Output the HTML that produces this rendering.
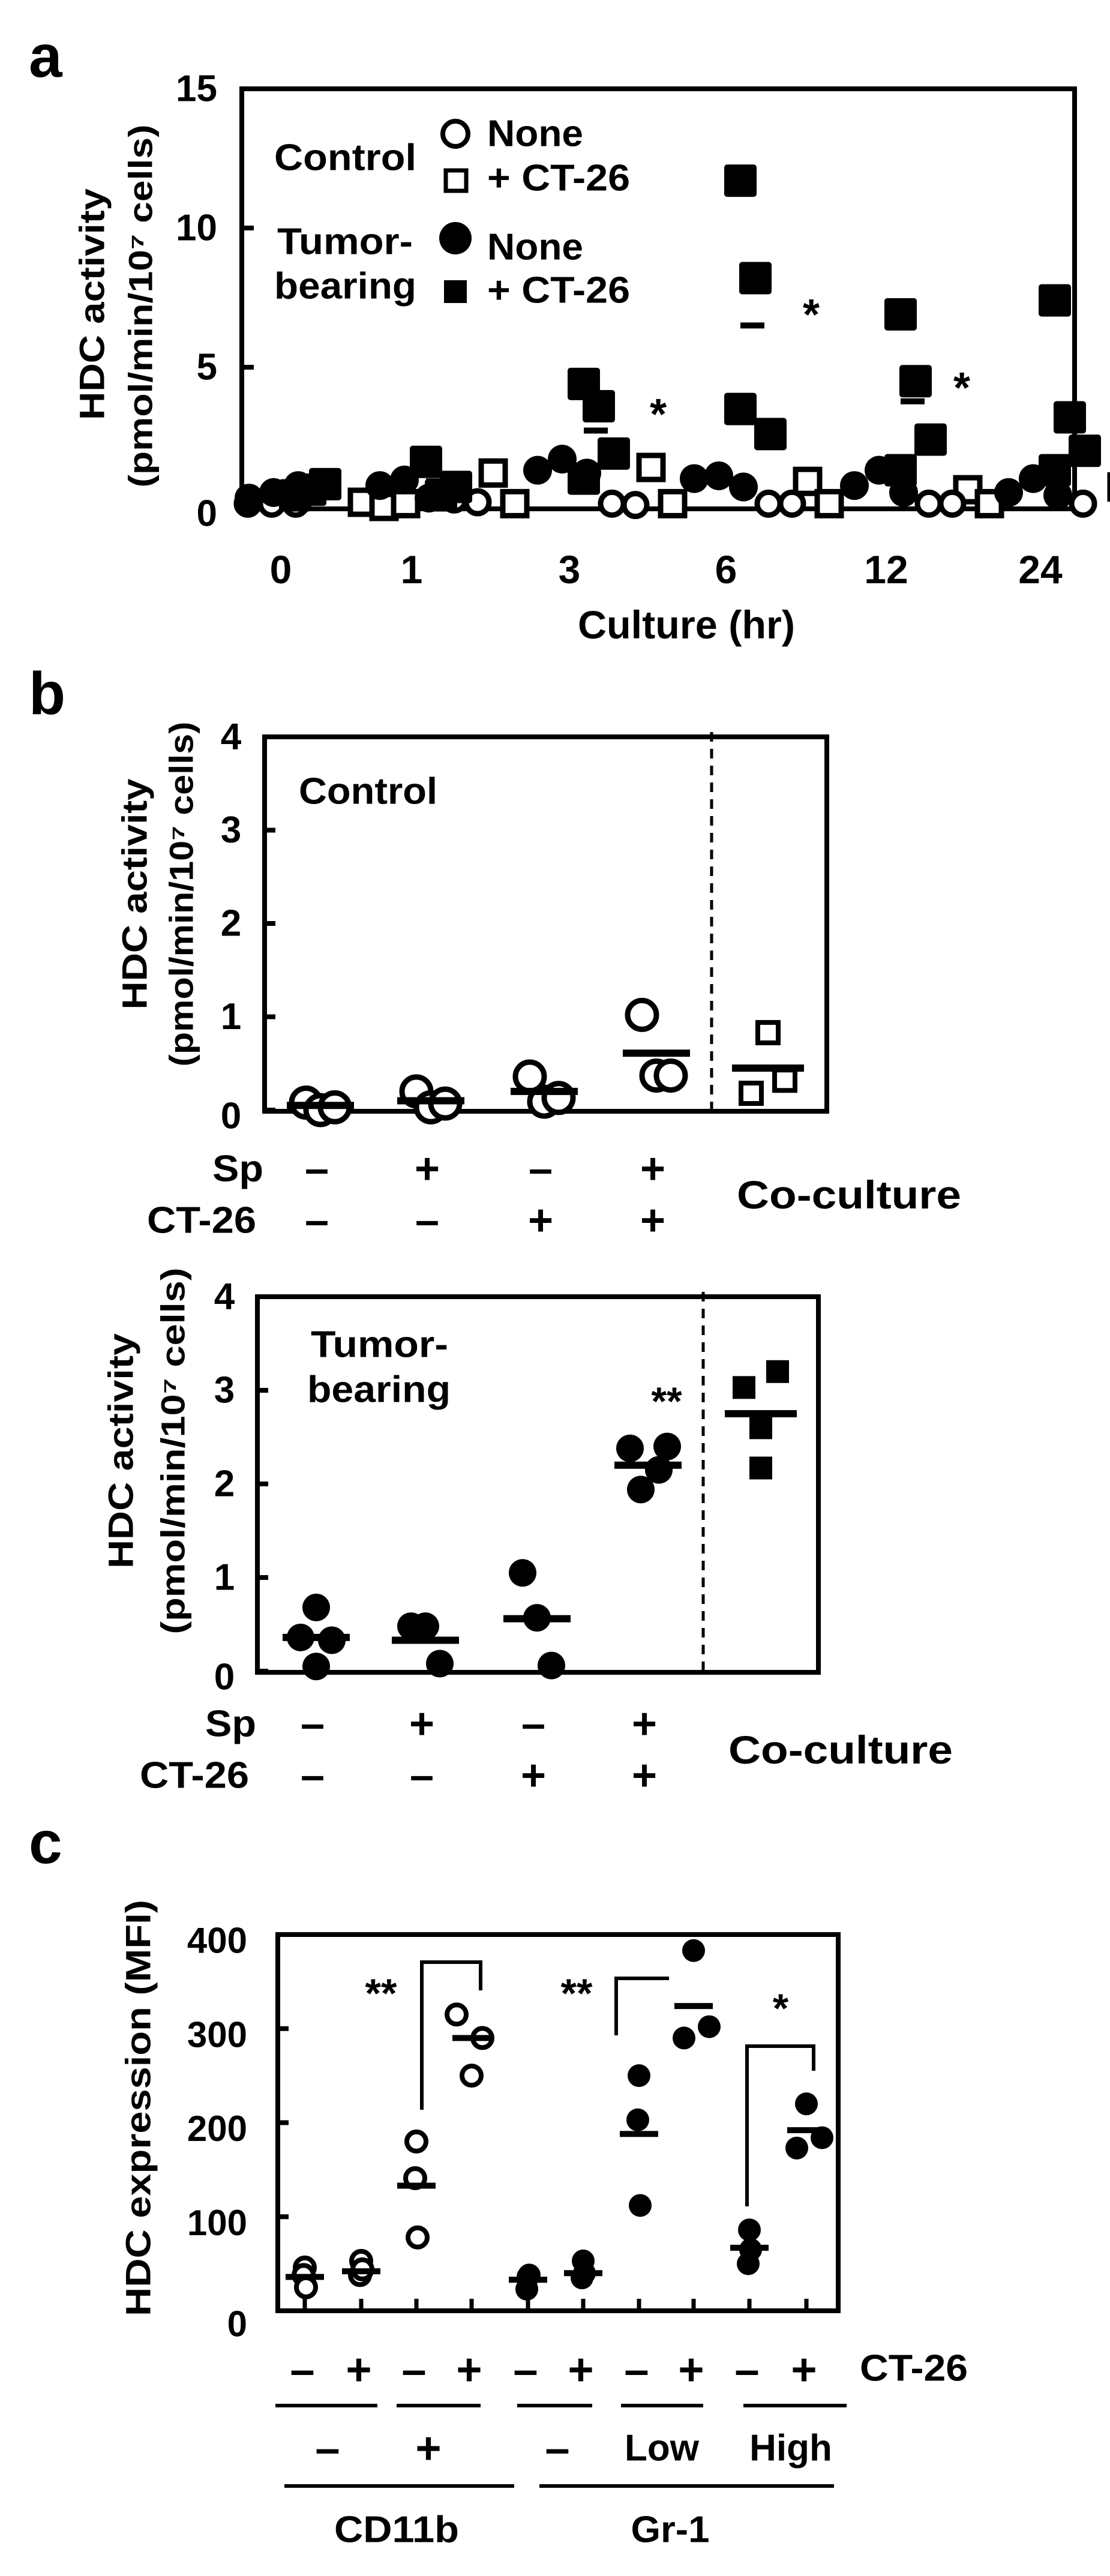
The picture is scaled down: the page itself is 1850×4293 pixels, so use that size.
<!DOCTYPE html>
<html><head><meta charset="utf-8"><title>HDC activity figure</title>
<style>
html,body{margin:0;padding:0;background:#fff;}
svg{display:block;}
text{font-family:"Liberation Sans",Arial,sans-serif;font-weight:bold;fill:#000;}
</style></head>
<body>
<svg id="fig" width="1850" height="4293" viewBox="0 0 1850 4293" xmlns="http://www.w3.org/2000/svg">
<!-- PANEL A -->
<g id="pa">
<text x="48" y="128" font-size="100">a</text>
<rect x="403" y="148" width="1388" height="700" fill="none" stroke="#000" stroke-width="8"/>
<g id="pa-yticks"></g>
<g id="pa-xlabels"></g>
<text x="1144" y="1041" font-size="66" text-anchor="middle" dominant-baseline="central" textLength="362" lengthAdjust="spacingAndGlyphs">Culture (hr)</text>
<text transform="translate(154,507) rotate(-90)" font-size="58" text-anchor="middle" dominant-baseline="central" textLength="386" lengthAdjust="spacingAndGlyphs">HDC activity</text>
<text transform="translate(234,510) rotate(-90)" font-size="56" text-anchor="middle" dominant-baseline="central" textLength="605" lengthAdjust="spacingAndGlyphs">(pmol/min/10⁷ cells)</text>
<g>
<text x="457" y="263" font-size="62" dominant-baseline="central" textLength="237" lengthAdjust="spacingAndGlyphs">Control</text>
<circle cx="759" cy="223" r="21" fill="#fff" stroke="#000" stroke-width="8"/>
<text x="812" y="223" font-size="62" dominant-baseline="central" textLength="160" lengthAdjust="spacingAndGlyphs">None</text>
<rect x="743" y="284" width="34" height="34" fill="#fff" stroke="#000" stroke-width="7"/>
<text x="812" y="297" font-size="62" dominant-baseline="central" textLength="238" lengthAdjust="spacingAndGlyphs">+ CT-26</text>
<text x="462" y="403" font-size="62" dominant-baseline="central" textLength="226" lengthAdjust="spacingAndGlyphs">Tumor-</text>
<text x="457" y="477" font-size="62" dominant-baseline="central" textLength="237" lengthAdjust="spacingAndGlyphs">bearing</text>
<circle cx="759" cy="397" r="27" fill="#000"/>
<text x="812" y="412" font-size="62" dominant-baseline="central" textLength="160" lengthAdjust="spacingAndGlyphs">None</text>
<rect x="740" y="467" width="38" height="38" fill="#000"/>
<text x="812" y="484" font-size="62" dominant-baseline="central" textLength="238" lengthAdjust="spacingAndGlyphs">+ CT-26</text>
</g>
<g id="pa-marks"></g>
<text x="1097" y="715" font-size="72" text-anchor="middle">*</text>
<text x="1352" y="549" font-size="72" text-anchor="middle">*</text>
<text x="1603" y="671" font-size="72" text-anchor="middle">*</text>
</g>

<!-- PANEL B -->
<g id="pb">
<text x="48" y="1190" font-size="100">b</text>
<g id="pb1"></g>
<g id="pb2"></g>
<text x="498" y="1319" font-size="62" dominant-baseline="central" textLength="231" lengthAdjust="spacingAndGlyphs">Control</text>
<text x="518" y="2241" font-size="62" dominant-baseline="central" textLength="229" lengthAdjust="spacingAndGlyphs">Tumor-</text>
<text x="512" y="2316" font-size="62" dominant-baseline="central" textLength="239" lengthAdjust="spacingAndGlyphs">bearing</text>
<text x="1111" y="2358" font-size="66" text-anchor="middle">**</text>
</g>

<!-- PANEL C -->
<g id="pc">
<text x="48" y="3105" font-size="100">c</text>
<g id="pc-chart"></g>
</g>
</svg>

<script>
// ---------- Panel A data ----------
var aTimes = ["0","1","3","6","12","24"];
var aTumorCT = [[0.4,0.6,0.8],[1.6,0.4,0.7],[4.4,3.6,1.9,1.0],[11.7,8.2,2.6,3.5],[6.9,4.5,2.4,1.3],[7.4,3.2,2.0,1.3]];
var aTumorNone = [[0.3,0.5,0.75],[0.75,0.95,0.3],[1.3,1.7,1.2],[1.0,1.1,0.7],[0.75,1.3,0.5],[0.5,1.0,0.4]];
var aCtrlNone = [[0.1,0.1,0.1],[0.25,0.15],[0.1,0.05],[0.1,0.1],[0.1,0.1],[0.1]];
var aCtrlCT = [[0.15,0.0,0.1],[1.2,0.1],[1.4,0.1],[0.9,0.1],[0.6,0.1],[0.7,0.2]];
var aYTicks = [0,5,10,15];

// ---------- Panel B data ----------
var bCats = ["1","2","3","4"];
var bSp = ["–","+","–","+"];
var bCT = ["–","–","+","+"];
var bYTicks = [0,1,2,3,4];
var bCtrlVals = [[0.08,0.0,0.03],[0.2,0.03,0.07],[0.36,0.09,0.13],[1.02,0.37,0.37]];
var bCtrlMeans = [0.05,0.1,0.2,0.61];
var bCtrlCo = [0.83,0.18,0.32];
var bCtrlCoMean = 0.45;
var bTumVals = [[0.68,0.36,0.33,0.05],[0.48,0.48,0.08],[1.05,0.57,0.06],[2.38,2.4,2.15,1.94]];
var bTumMeans = [0.36,0.33,0.56,2.2];
var bTumCo = [3.03,3.2,2.6,2.17];
var bTumCoMean = 2.75;

// ---------- Panel C data ----------
var cYTicks = [0,100,200,300,400];
var cCT = ["–","+","–","+","–","+","–","+","–","+"];
var cVals = [[46,38,25],[53,38,44],[180,141,78],[315,290,250],[36,23,38],[53,35,40],[250,203,112],[383,290,302],[86,50,65],[220,173,184]];
var cMeans = [36,42,133,290,33,40,188,324,67,192];
var cOpen = [true,true,true,true,false,false,false,false,false,false];

var NS = "http://www.w3.org/2000/svg";
function mk(tag, parent, attrs){
  var e = document.createElementNS(NS, tag);
  for (var k in attrs) e.setAttribute(k, attrs[k]);
  parent.appendChild(e);
  return e;
}

// ===== Panel A =====
(function(){
  var y0 = 844, y15 = 148;
  function ay(v){ return y0 - (v/15)*(y0-y15); }
  var xc = [468,686,949,1210,1477,1734];
  function ax(i){ return xc[i]; }
  var yt = document.getElementById('pa-yticks');
  aYTicks.forEach(function(t){
    var l = mk('line', yt, {x1:403,x2:423,y1:ay(t),y2:ay(t),stroke:'#000','stroke-width':8});
    
    
    var tx = mk('text', yt, {x:362,y:ay(t)+(t===0?12:0),'font-size':62,'text-anchor':'end','dominant-baseline':'central'});
    tx.textContent = t;
    
    
  });
  var xl = document.getElementById('pa-xlabels');
  aTimes.forEach(function(t,i){
    var tx = mk('text', xl, {x:ax(i),y:949,'font-size':66,'text-anchor':'middle','dominant-baseline':'central'});
    tx.textContent = t;
    
    
  });
  var g = document.getElementById('pa-marks');
  function mean(a){ return a.reduce(function(s,v){return s+v;},0)/a.length; }
  aTimes.forEach(function(t,i){
    var cx = ax(i);
    aCtrlCT[i].forEach(function(v,j){
      var x = cx + 136 + j*36;
      var r = mk('rect', g, {x:x-20,y:ay(v)-20,width:40,height:40,fill:'#fff',stroke:'#000','stroke-width':9});
      
      
    });
    aCtrlNone[i].forEach(function(v,j){
      var x = cx + (i===0 ? -55 + j*40 : 71 + j*39);
      var c = mk('circle', g, {cx:x,cy:ay(v),r:19,fill:'#fff',stroke:'#000','stroke-width':9});
      
      
    });
    aTumorNone[i].forEach(function(v,j){
      var x = cx - 53 + j*41;
      var c = mk('circle', g, {cx:x,cy:ay(v),r:24,fill:'#000'});
      
      
    });
    aTumorCT[i].forEach(function(v,j){
      var x = cx + 24 + (j%3)*25;
      var r = mk('rect', g, {x:x-27,y:ay(v)-27,width:54,height:54,rx:5,fill:'#000'});
      
      
    });
    var m = mean(aTumorCT[i]);
    var b = mk('rect', g, {x:cx+24,y:ay(m)-5,width:40,height:10,fill:'#000'});
    
    
  });
})();

// ===== Panel B =====
function drawB(gid, left, right, top, y0, dashX, vals, means, co, coMean, filled, signY1, signY2, labelX, titleX1, titleX2, titleY, len1, len2, catX, coX){
  var g = document.getElementById(gid);
  var unit = (y0 - top)/4;
  function by(v){ return y0 - v*unit; }
  var fr = mk('rect', g, {x:left,y:top,width:right-left,height:y0-top+2,fill:'none',stroke:'#000','stroke-width':8});
  
  
  var dl = mk('line', g, {x1:dashX,x2:dashX,y1:top-8,y2:y0,stroke:'#000','stroke-width':5,'stroke-dasharray':'16,12'});
  
  
  bYTicks.forEach(function(t){
    var l = mk('line', g, {x1:left,x2:left+18,y1:by(t),y2:by(t),stroke:'#000','stroke-width':8});
    
    
    var tx = mk('text', g, {x:labelX,y:by(t)+(t===0?10:0),'font-size':62,'text-anchor':'middle','dominant-baseline':'central'});
    tx.textContent = t;
    
    
  });
  var t1 = mk('text', g, {transform:'translate('+titleX1+','+titleY+') rotate(-90)','font-size':58,'text-anchor':'middle','dominant-baseline':'central',textLength:len1,lengthAdjust:'spacingAndGlyphs'});
  t1.textContent = 'HDC activity';
  
  
  var t2 = mk('text', g, {transform:'translate('+titleX2+','+titleY+') rotate(-90)','font-size':56,'text-anchor':'middle','dominant-baseline':'central',textLength:len2,lengthAdjust:'spacingAndGlyphs'});
  t2.textContent = '(pmol/min/10\u2077 cells)';
  
  
  vals.forEach(function(arr,i){
    var cx = catX[i];
    var n = arr.length;
    arr.forEach(function(v,j){
      var off = (n===4) ? [0,-26,26,0][j] : [-24,0,24][j];
      if (n===4 && i===3) off = [-30,32,18,-12][j];
      var c;
      if (filled) c = mk('circle', g, {cx:cx+off,cy:by(v),r:23,fill:'#000'});
      else c = mk('circle', g, {cx:cx+off,cy:by(v),r:24,fill:'#fff',stroke:'#000','stroke-width':9});
      
      
    });
    var b = mk('rect', g, {x:cx-56,y:by(means[i])-6,width:112,height:12,fill:'#000'});
    
    
  });
  co.forEach(function(v,j){
    var off = (co.length===4) ? [-28,28,0,0][j] : [0,-28,28][j];
    var s = filled ? 38 : 34;
    var r;
    if (filled) r = mk('rect', g, {x:coX+off-s/2,y:by(v)-s/2,width:s,height:s,fill:'#000'});
    else r = mk('rect', g, {x:coX+off-s/2,y:by(v)-s/2,width:s,height:s,fill:'#fff',stroke:'#000','stroke-width':8});
    
    
  });
  var cb = mk('rect', g, {x:coX-60,y:by(coMean)-6,width:120,height:12,fill:'#000'});
  
  
  var sp = mk('text', g, {x:left-2,y:signY1,'font-size':62,'text-anchor':'end','dominant-baseline':'central',textLength:85,lengthAdjust:'spacingAndGlyphs'});
  sp.textContent = 'Sp';
  
  
  var ct = mk('text', g, {x:left-14,y:signY2,'font-size':62,'text-anchor':'end','dominant-baseline':'central',textLength:182,lengthAdjust:'spacingAndGlyphs'});
  ct.textContent = 'CT-26';
  
  
  bCats.forEach(function(c,i){
    var s1 = mk('text', g, {x:catX[i]-6,y:signY1,'font-size':72,'text-anchor':'middle','dominant-baseline':'central'});
    s1.textContent = bSp[i];
    
    
    var s2 = mk('text', g, {x:catX[i]-6,y:signY2,'font-size':72,'text-anchor':'middle','dominant-baseline':'central'});
    s2.textContent = bCT[i];
    
    
  });
  var cc = mk('text', g, {x:dashX+42,y:(signY1+signY2)/2,'font-size':66,'dominant-baseline':'central',textLength:374,lengthAdjust:'spacingAndGlyphs'});
  cc.textContent = 'Co-culture';
  
  
}
drawB('pb1', 441, 1378, 1228, 1850, 1186, bCtrlVals, bCtrlMeans, bCtrlCo, bCtrlCoMean, false, 1948, 2034, 385, 225, 302, 1490, 385, 575, [534,718,907,1094], 1280);
drawB('pb2', 429, 1364, 2161, 2785, 1172, bTumVals, bTumMeans, bTumCo, bTumCoMean, true, 2873, 2959, 374, 202, 288, 2418, 392, 611, [527,709,895,1080], 1268);

// ===== Panel C =====
(function(){
  var g = document.getElementById('pc-chart');
  var left = 463, right = 1397, top = 3224, y0 = 3851;
  function cy(v){ return y0 - v/400*(y0-top); }
  var xs = [508,602,694,786,880,972,1065,1156,1249,1344];
  function cx(i){ return xs[i]; }
  var fr = mk('rect', g, {x:left,y:top,width:right-left,height:y0-top,fill:'none',stroke:'#000','stroke-width':8});
  
  
  cYTicks.forEach(function(t){
    var l = mk('line', g, {x1:left,x2:left+18,y1:cy(t),y2:cy(t),stroke:'#000','stroke-width':8});
    
    
    var tx = mk('text', g, {x:412,y:cy(t)+(t===0?22:10),'font-size':60,'text-anchor':'end','dominant-baseline':'central'});
    tx.textContent = t;
    
    
  });
  var tt = mk('text', g, {transform:'translate(231,3513) rotate(-90)','font-size':58,'text-anchor':'middle','dominant-baseline':'central',textLength:694,lengthAdjust:'spacingAndGlyphs'});
  tt.textContent = 'HDC expression (MFI)';
  
  
  cVals.forEach(function(arr,i){
    var l = mk('line', g, {x1:cx(i),x2:cx(i),y1:y0,y2:y0-20,stroke:'#000','stroke-width':7});
    
    
    arr.forEach(function(v,j){
      var off = [0,-2,2][j];
      if (i===7) off = [0,-16,26][j];
      if (i===9) off = [0,-16,26][j];
      if (i===3) off = [-25,18,0][j];
      var c;
      if (cOpen[i]) c = mk('circle', g, {cx:cx(i)+off,cy:cy(v),r:16,fill:'#fff',stroke:'#000','stroke-width':8});
      else c = mk('circle', g, {cx:cx(i)+off,cy:cy(v),r:19,fill:'#000'});
      
      
    });
    var b = mk('rect', g, {x:cx(i)-32,y:cy(cMeans[i])-5,width:64,height:10,fill:'#000'});
    
    
    var s = mk('text', g, {x:cx(i)-4,y:3949,'font-size':74,'text-anchor':'middle','dominant-baseline':'central'});
    s.textContent = cCT[i];
    
    
  });
  var ctl = mk('text', g, {x:1433,y:3947,'font-size':62,'dominant-baseline':'central',textLength:180,lengthAdjust:'spacingAndGlyphs'});
  ctl.textContent = 'CT-26';
  
  
})();

(function(){
  var g = document.getElementById('pc');
  function add(tag, attrs){ var e=document.createElementNS(NS,tag); for(var k in attrs) e.setAttribute(k,attrs[k]); g.appendChild(e); return e; }
  var segs = [[459,629],[661,801],[862,987],[1035,1172],[1239,1411]];
  segs.forEach(function(s,i){
    var l = add('line',{x1:s[0],x2:s[1],y1:4009,y2:4009,stroke:'#000','stroke-width':6});
    
    
  });
  var labs = [["–",546,74],["+",714,74],["–",929,74],["Low",1103,62],["High",1318,62]];
  labs.forEach(function(a,i){
    var t = add('text',{x:a[1],y:4080,'font-size':a[2],'text-anchor':'middle','dominant-baseline':'central'});
    t.textContent = a[0];
    
    
  });
  [[474,857],[899,1390]].forEach(function(s,i){
    var l = add('line',{x1:s[0],x2:s[1],y1:4143,y2:4143,stroke:'#000','stroke-width':6});
    
    
  });
  var cd = add('text',{x:661,y:4216,'font-size':62,'text-anchor':'middle','dominant-baseline':'central',textLength:208,lengthAdjust:'spacingAndGlyphs'});
  cd.textContent='CD11b';
  
  
  var gr = add('text',{x:1117,y:4216,'font-size':62,'text-anchor':'middle','dominant-baseline':'central',textLength:131,lengthAdjust:'spacingAndGlyphs'});
  gr.textContent='Gr-1';
  
  
  var br = ["M703,3516 L703,3270 L801,3270 L801,3317","M1027,3392 L1027,3297 L1115,3297","M1245,3677 L1245,3410 L1356,3410 L1356,3451"];
  br.forEach(function(p,i){
    var e = add('path',{d:p,fill:'none',stroke:'#000','stroke-width':6});
    
    
  });
  [["**",635,3345],["**",961,3345],["*",1301,3370]].forEach(function(s,i){
    var t = add('text',{x:s[1],y:s[2],'font-size':68,'text-anchor':'middle'});
    t.textContent=s[0];
    
    
  });
})();
</script>
</body></html>
